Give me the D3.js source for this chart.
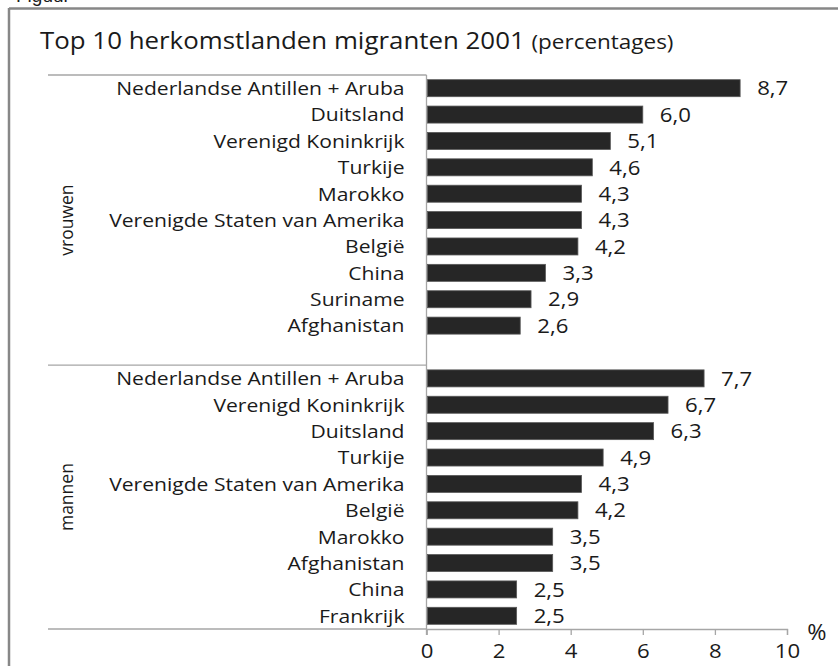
<!DOCTYPE html>
<html>
<head>
<meta charset="utf-8">
<script src="https://cdn.jsdelivr.net/npm/d3@7"></script>
<style>
  body { margin: 0; background: #fff; }
  svg text { font-family: "Open Sans", "Noto Sans", sans-serif; fill: #1a1a1a; }
</style>
</head>
<body>
<div id="chart"></div>
<script>
const vrouwenLanden = ["Nederlandse Antillen + Aruba", "Duitsland", "Verenigd Koninkrijk", "Turkije", "Marokko",
  "Verenigde Staten van Amerika", "België", "China", "Suriname", "Afghanistan"];
const vrouwenWaarden = [8.7, 6.0, 5.1, 4.6, 4.3, 4.3, 4.2, 3.3, 2.9, 2.6];

const mannenLanden = ["Nederlandse Antillen + Aruba", "Verenigd Koninkrijk", "Duitsland", "Turkije",
  "Verenigde Staten van Amerika", "België", "Marokko", "Afghanistan", "China", "Frankrijk"];
const mannenWaarden = [7.7, 6.7, 6.3, 4.9, 4.3, 4.2, 3.5, 3.5, 2.5, 2.5];

const groepen = ["vrouwen", "mannen"];
const xTicks = [0, 2, 4, 6, 8, 10];

const W = 838, H = 666;
const margin = { top: 75, bottom: 37, left: 426.5, right: 51 };
const width = W - margin.left - margin.right;
const height = H - margin.top - margin.bottom;
const sx = 1.11; // the original's text looks a bit stretched sideways

// rows: 10 vrouwen, one empty slot, 10 mannen
const rows = [
  ...vrouwenLanden.map((d, i) => ({ key: "v" + i, land: d, value: vrouwenWaarden[i] })),
  { key: "gap", land: "", value: null },
  ...mannenLanden.map((d, i) => ({ key: "m" + i, land: d, value: mannenWaarden[i] }))
];

const nl = d3.formatLocale({ decimal: ",", thousands: ".", grouping: [3], currency: ["€", ""] });
const fmt = nl.format(".1f");

const svg = d3.select("#chart").append("svg")
  .attr("width", W)
  .attr("height", H);

// frame (only top and left edges visible)
svg.append("line").attr("x1", 9).attr("x2", W).attr("y1", 8.5).attr("y2", 8.5)
  .attr("stroke", "#878787").attr("stroke-width", 2.5);
svg.append("line").attr("x1", 9).attr("x2", 9).attr("y1", 8).attr("y2", H)
  .attr("stroke", "#878787").attr("stroke-width", 2.5);

// cut-off heading above the frame
svg.append("text").attr("x", 16).attr("y", 2)
  .style("font-family", "Arial, 'Liberation Sans', sans-serif")
  .style("font-size", "19px").text("Figuur");

const title = svg.append("text").attr("transform", `translate(40, 49) scale(1.125, 1)`);
title.append("tspan").style("font-size", "23px").text("Top 10 herkomstlanden migranten 2001 ");
title.append("tspan").style("font-size", "20px").text("(percentages)");

const g = svg.append("g").attr("transform", `translate(${margin.left}, ${margin.top})`);

const x = d3.scaleLinear().domain([0, 10]).range([0, width]);
const y = d3.scaleBand()
  .domain(rows.map((d) => d.key))
  .range([0, height])
  .paddingInner(0.355)
  .paddingOuter(0.355 / 2);

const step = y.step();
const sepY = [0, step * 11, height];

// category separators
g.selectAll(".sep")
  .data(sepY)
  .enter()
  .append("line")
  .attr("class", "sep")
  .attr("x1", 48 - margin.left)
  .attr("x2", 0)
  .attr("y1", (d) => d)
  .attr("y2", (d) => d)
  .attr("stroke", "#a6a6a6")
  .attr("stroke-width", 1.3);

// value axis
const xAxis = g.append("g")
  .attr("transform", `translate(0, ${height})`)
  .call(d3.axisBottom(x).tickValues(xTicks).tickSize(6).tickPadding(9).tickFormat((d) => d));
xAxis.select(".domain").attr("stroke", "#a6a6a6").attr("stroke-width", 1.3);
xAxis.selectAll(".tick line").attr("stroke", "#a6a6a6").attr("stroke-width", 1.3);
xAxis.selectAll(".tick text")
  .style("font-size", "20px")
  .attr("fill", "#1a1a1a")
  .attr("transform", `scale(${sx}, 1)`);

// vertical category axis line
g.append("line")
  .attr("x1", 0).attr("x2", 0)
  .attr("y1", 0).attr("y2", height + 6)
  .attr("stroke", "#a6a6a6")
  .attr("stroke-width", 1.3);

const data = rows.filter((d) => d.value !== null);

g.selectAll(".bar")
  .data(data)
  .enter()
  .append("rect")
  .attr("class", "bar")
  .attr("x", x(0) + 1)
  .attr("y", (d) => y(d.key))
  .attr("width", (d) => x(d.value) - x(0) - 1)
  .attr("height", y.bandwidth())
  .attr("fill", "#262626")
  .attr("stroke", "#595959")
  .attr("stroke-width", 0.8);

g.selectAll(".val")
  .data(data)
  .enter()
  .append("text")
  .attr("class", "val")
  .attr("transform", (d) => `translate(${x(d.value) + 17}, ${y(d.key) + y.bandwidth() / 2}) scale(${sx}, 1)`)
  .attr("dy", "0.36em")
  .style("font-size", "20px")
  .text((d) => fmt(d.value));

g.selectAll(".land")
  .data(data)
  .enter()
  .append("text")
  .attr("class", "land")
  .attr("transform", (d) => `translate(-22, ${y(d.key) + y.bandwidth() / 2}) scale(${sx}, 1)`)
  .attr("dy", "0.36em")
  .attr("text-anchor", "end")
  .style("font-size", "19px")
  .text((d) => d.land);

// group labels
const groupMid = [(sepY[0] + sepY[1]) / 2, (sepY[1] + sepY[2]) / 2];
g.selectAll(".groep")
  .data(groepen)
  .enter()
  .append("text")
  .attr("class", "groep")
  .attr("transform", (d, i) => `translate(${67 - margin.left}, ${groupMid[i]}) rotate(-90)`)
  .attr("text-anchor", "middle")
  .attr("dy", "0.36em")
  .style("font-size", "17.5px")
  .text((d) => d);

// unit label
svg.append("text")
  .attr("transform", `translate(817, 632) scale(${sx}, 1)`)
  .attr("dy", "0.36em")
  .attr("text-anchor", "middle")
  .style("font-size", "21px")
  .text("%");
</script>
</body>
</html>
